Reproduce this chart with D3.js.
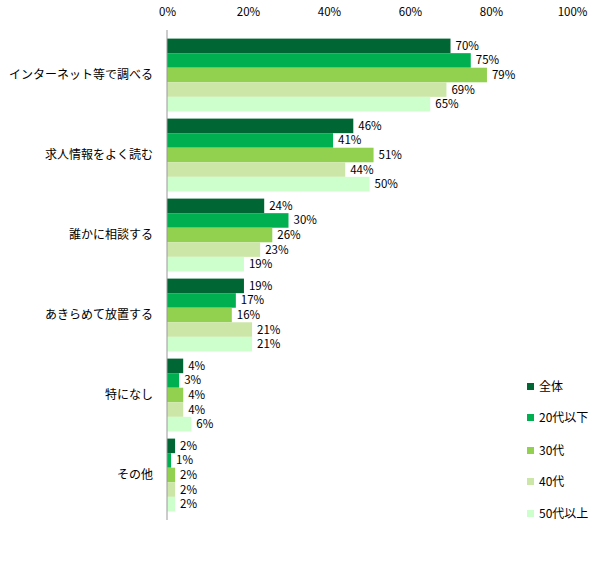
<!DOCTYPE html>
<html><head><meta charset="utf-8">
<script src="https://cdn.jsdelivr.net/npm/d3@7"></script>
<style>body{margin:0;background:#fff}text{font-family:"Noto Sans CJK JP","Noto Sans",sans-serif}</style>
</head><body><svg id="c" width="605" height="567"></svg>
<script>
const categories=["インターネット等で調べる","求人情報をよく読む","誰かに相談する","あきらめて放置する","特になし","その他"];
const seriesNames=["全体","20代以下","30代","40代","50代以上"];
const colors=["#006633","#00B050","#92D050","#CCE6A8","#CCFFCC"];
const s0=[70,46,24,19,4,2];
const s1=[75,41,30,17,3,1];
const s2=[79,51,26,16,4,2];
const s3=[69,44,23,21,4,2];
const s4=[65,50,19,21,6,2];
const series=[s0,s1,s2,s3,s4];
const ticks=[0,20,40,60,80,100];

const svg=d3.select("#c");
const x=d3.scaleLinear().domain([0,100]).range([167,572]);
const y0=d3.scaleBand().domain(categories).range([35,515]).paddingInner(0.09).paddingOuter(0.045);
const y1=d3.scaleBand().domain(d3.range(5)).range([0,y0.bandwidth()]);

const ax=svg.append("g").attr("transform","translate(0,19)").call(d3.axisTop(x).tickValues(ticks).tickFormat(d=>d+"%").tickSize(0));
ax.select(".domain").remove();
ax.selectAll("text").attr("font-size",11.5).attr("fill","#000");

categories.forEach((c,i)=>{
  const g=svg.append("g").attr("transform",`translate(0,${y0(c)})`);
  series.forEach((s,j)=>{
    g.append("rect").attr("x",x(0)).attr("y",y1(j)).attr("width",x(s[i])-x(0)).attr("height",y1.bandwidth()).attr("fill",colors[j]);
    g.append("text").attr("x",x(s[i])+5).attr("y",y1(j)+y1.bandwidth()/2).attr("dy","0.35em").attr("font-size",11.5).text(s[i]+"%");
  });
  svg.append("text").attr("x",153).attr("y",y0(c)+y0.bandwidth()/2).attr("dy","0.35em").attr("text-anchor","end").attr("font-size",12).text(c);
});
svg.append("line").attr("x1",x(0)).attr("x2",x(0)).attr("y1",30).attr("y2",520).attr("stroke","#999");

const ly=[387,418,451,482,514];
seriesNames.forEach((n,j)=>{
  svg.append("rect").attr("x",527).attr("y",ly[j]-4).attr("width",7).attr("height",7).attr("fill",colors[j]);
  svg.append("text").attr("x",539).attr("y",ly[j]).attr("dy","0.35em").attr("font-size",12).text(n);
});
</script></body></html>
